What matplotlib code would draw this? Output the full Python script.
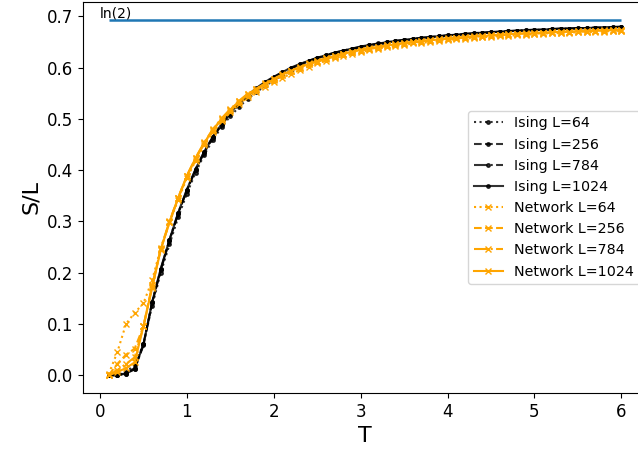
import numpy as np
import matplotlib
matplotlib.use("Agg")
import matplotlib.pyplot as plt

# Temperature grid
T = [0.1, 0.2, 0.3, 0.4, 0.5, 0.6, 0.7, 0.8, 0.9, 1.0,
     1.1, 1.2, 1.3, 1.4, 1.5, 1.6, 1.7, 1.8, 1.9, 2.0,
     2.1, 2.2, 2.3, 2.4, 2.5, 2.6, 2.7, 2.8, 2.9, 3.0,
     3.1, 3.2, 3.3, 3.4, 3.5, 3.6, 3.7, 3.8, 3.9, 4.0,
     4.1, 4.2, 4.3, 4.4, 4.5, 4.6, 4.7, 4.8, 4.9, 5.0,
     5.1, 5.2, 5.3, 5.4, 5.5, 5.6, 5.7, 5.8, 5.9, 6.0]

sizes = [64, 256, 784, 1024]

# Entropy per spin, Ising model
ising_64 = [0.000, 0.001, 0.006, 0.020, 0.060, 0.135, 0.200, 0.255, 0.308, 0.354,
            0.395, 0.430, 0.459, 0.484, 0.505, 0.523, 0.539, 0.552, 0.564, 0.575,
            0.585, 0.594, 0.602, 0.609, 0.615, 0.620, 0.626, 0.630, 0.635, 0.638,
            0.642, 0.645, 0.647, 0.650, 0.652, 0.654, 0.656, 0.658, 0.660, 0.661,
            0.663, 0.664, 0.666, 0.667, 0.668, 0.669, 0.670, 0.671, 0.672, 0.672,
            0.673, 0.674, 0.675, 0.675, 0.676, 0.676, 0.677, 0.677, 0.678, 0.678]
ising_256 = [0.000, 0.000, 0.004, 0.014, 0.060, 0.140, 0.205, 0.262, 0.315, 0.360,
             0.400, 0.434, 0.463, 0.488, 0.510, 0.528, 0.544, 0.558, 0.570, 0.580,
             0.589, 0.598, 0.605, 0.612, 0.618, 0.623, 0.628, 0.632, 0.636, 0.640,
             0.643, 0.646, 0.649, 0.651, 0.653, 0.655, 0.657, 0.659, 0.661, 0.662,
             0.664, 0.665, 0.666, 0.667, 0.669, 0.670, 0.671, 0.671, 0.672, 0.673,
             0.674, 0.675, 0.675, 0.676, 0.676, 0.677, 0.677, 0.678, 0.678, 0.679]
ising_784 = [0.000, 0.000, 0.003, 0.012, 0.058, 0.142, 0.207, 0.264, 0.316, 0.361,
             0.401, 0.436, 0.465, 0.489, 0.511, 0.529, 0.545, 0.559, 0.571, 0.581,
             0.591, 0.599, 0.606, 0.613, 0.619, 0.624, 0.629, 0.633, 0.637, 0.640,
             0.644, 0.646, 0.649, 0.652, 0.654, 0.656, 0.658, 0.659, 0.661, 0.663,
             0.664, 0.665, 0.667, 0.668, 0.669, 0.670, 0.671, 0.672, 0.673, 0.673,
             0.674, 0.675, 0.676, 0.676, 0.677, 0.677, 0.678, 0.678, 0.679, 0.679]
ising_1024 = [0.000, 0.000, 0.003, 0.012, 0.060, 0.142, 0.208, 0.264, 0.317, 0.362,
              0.402, 0.436, 0.465, 0.490, 0.512, 0.530, 0.546, 0.560, 0.572, 0.582,
              0.591, 0.600, 0.607, 0.613, 0.619, 0.624, 0.629, 0.633, 0.637, 0.641,
              0.644, 0.647, 0.649, 0.652, 0.654, 0.656, 0.658, 0.660, 0.661, 0.663,
              0.664, 0.666, 0.667, 0.668, 0.669, 0.670, 0.671, 0.672, 0.673, 0.674,
              0.674, 0.675, 0.676, 0.676, 0.677, 0.677, 0.678, 0.678, 0.679, 0.680]

# Entropy per spin, network estimate
net_64 = [0.002, 0.045, 0.100, 0.122, 0.140, 0.185, 0.248, 0.298, 0.342, 0.384,
          0.418, 0.448, 0.474, 0.495, 0.513, 0.529, 0.542, 0.553, 0.562, 0.571,
          0.580, 0.588, 0.595, 0.602, 0.608, 0.613, 0.618, 0.623, 0.627, 0.630,
          0.634, 0.637, 0.640, 0.642, 0.644, 0.647, 0.648, 0.650, 0.652, 0.654,
          0.655, 0.656, 0.658, 0.659, 0.660, 0.661, 0.662, 0.663, 0.664, 0.665,
          0.666, 0.667, 0.667, 0.668, 0.669, 0.669, 0.670, 0.670, 0.671, 0.671]
net_256 = [0.000, 0.022, 0.040, 0.052, 0.095, 0.175, 0.246, 0.299, 0.346, 0.389,
           0.422, 0.452, 0.478, 0.499, 0.517, 0.533, 0.547, 0.557, 0.567, 0.576,
           0.585, 0.593, 0.599, 0.606, 0.611, 0.617, 0.621, 0.626, 0.630, 0.633,
           0.636, 0.639, 0.642, 0.644, 0.646, 0.649, 0.650, 0.652, 0.654, 0.655,
           0.657, 0.658, 0.659, 0.660, 0.662, 0.663, 0.664, 0.665, 0.665, 0.666,
           0.667, 0.668, 0.668, 0.669, 0.670, 0.670, 0.671, 0.671, 0.672, 0.672]
net_784 = [0.000, 0.010, 0.022, 0.035, 0.095, 0.172, 0.247, 0.300, 0.346, 0.389,
           0.424, 0.454, 0.480, 0.501, 0.519, 0.535, 0.549, 0.559, 0.569, 0.578,
           0.587, 0.594, 0.601, 0.608, 0.613, 0.618, 0.623, 0.627, 0.631, 0.635,
           0.638, 0.641, 0.643, 0.646, 0.648, 0.650, 0.652, 0.654, 0.655, 0.657,
           0.658, 0.660, 0.661, 0.662, 0.663, 0.664, 0.665, 0.666, 0.667, 0.668,
           0.668, 0.669, 0.670, 0.670, 0.671, 0.672, 0.672, 0.673, 0.673, 0.674]
net_1024 = [0.000, 0.006, 0.014, 0.025, 0.095, 0.170, 0.245, 0.298, 0.345, 0.388,
            0.423, 0.453, 0.479, 0.500, 0.518, 0.534, 0.548, 0.558, 0.568, 0.577,
            0.586, 0.594, 0.600, 0.607, 0.612, 0.618, 0.622, 0.627, 0.631, 0.634,
            0.637, 0.640, 0.643, 0.645, 0.647, 0.650, 0.651, 0.653, 0.655, 0.656,
            0.658, 0.659, 0.660, 0.661, 0.663, 0.664, 0.665, 0.666, 0.666, 0.667,
            0.668, 0.669, 0.669, 0.670, 0.671, 0.671, 0.672, 0.672, 0.673, 0.673]

ising = [ising_64, ising_256, ising_784, ising_1024]
network = [net_64, net_256, net_784, net_1024]
styles = [':', '--', '-.', '-']

fig = plt.figure(figsize=(6.38, 4.5), dpi=100)
ax = fig.add_axes([83 / 638, 57 / 450, 564 / 638, 391 / 450])

for L, s, ls in zip(sizes, ising, styles):
    ax.plot(T, s, linestyle=ls, marker='.', color='k', alpha=0.8,
            markersize=5, linewidth=1.5, label=f'Ising L={L}')
for L, s, ls in zip(sizes, network, styles):
    ax.plot(T, s, linestyle=ls, marker='x', color='orange',
            markersize=4, linewidth=1.5, label=f'Network L={L}')

ax.hlines(np.log(2), 0.1, 6, color='C0', linewidth=1.8)
ax.text(0.0, 0.697, 'ln(2)', fontsize=10)

ax.set_xlim(-0.195, 6.295)
ax.set_ylim(-0.0347, 0.7278)
ax.set_xlabel('T', fontsize=16)
ax.set_ylabel('S/L', fontsize=16)
ax.tick_params(labelsize=12)
ax.legend(loc='center right', fontsize=10.3)

fig.savefig('out.png', dpi=100)
